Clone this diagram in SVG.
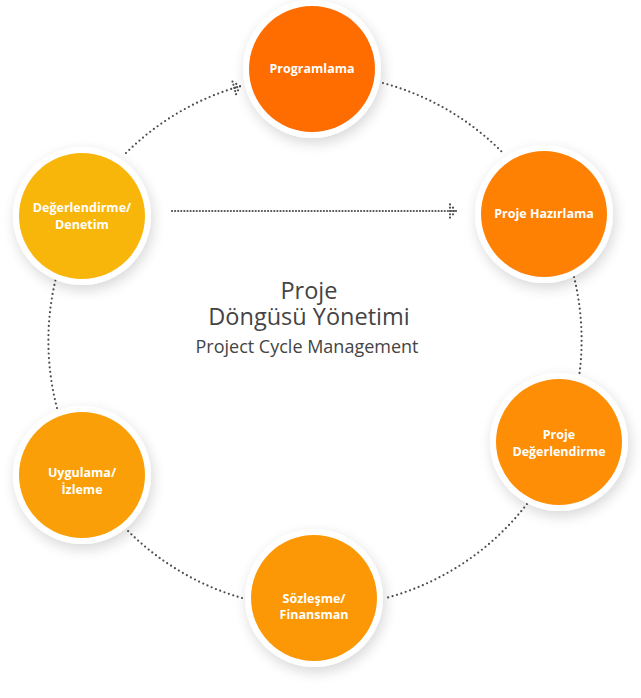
<svg xmlns="http://www.w3.org/2000/svg" width="641" height="698" viewBox="0 0 641 698">
  <style>
    .ring { fill: #ffffff; filter: url(#shadow); }
    .lbl { font-family: "Open Sans", "Liberation Sans", sans-serif; font-weight: 700; font-size: 12.5px; fill: #ffffff; text-anchor: middle; }
    .ctr { font-family: "Open Sans", "Liberation Sans", sans-serif; fill: #444444; text-anchor: middle; }
    .dot { fill: none; stroke: #4d4d4d; stroke-width: 2.2; stroke-linecap: round; stroke-dasharray: 0 4.6; }
    .dotH { fill: none; stroke: #4d4d4d; stroke-width: 2.2; stroke-linecap: round; stroke-dasharray: 0 3.1; }
  </style>
  <defs>
    <filter id="shadow" x="-30%" y="-30%" width="160%" height="160%">
      <feGaussianBlur in="SourceAlpha" stdDeviation="7"/>
      <feOffset dx="2" dy="5" result="b"/>
      <feComponentTransfer><feFuncA type="linear" slope="0.16"/></feComponentTransfer>
      <feMerge><feMergeNode/><feMergeNode in="SourceGraphic"/></feMerge>
    </filter>
    <marker id="darrow" markerUnits="userSpaceOnUse" markerWidth="20" markerHeight="20" viewBox="-10 -10 20 20" refX="0" refY="0" orient="auto" overflow="visible">
      <g fill="#4d4d4d">
        <circle cx="-7" cy="-6.6" r="1.1"/>
        <circle cx="-7" cy="-3.3" r="1.1"/>
        <circle cx="-7" cy="0" r="1.1"/>
        <circle cx="-7" cy="3.3" r="1.1"/>
        <circle cx="-7" cy="6.6" r="1.1"/>
        <circle cx="-4" cy="-3.3" r="1.1"/>
        <circle cx="-4" cy="0" r="1.1"/>
        <circle cx="-4" cy="3.3" r="1.1"/>
        <circle cx="-1" cy="0" r="1.1"/>
      </g>
    </marker>
  </defs>
  <rect width="641" height="698" fill="#ffffff"/>

  <g id="connectors">
    <path class="dot" d="M126,153 A265,265 0 0 1 241,86" marker-end="url(#darrow)"/>
    <path class="dot" d="M383,83 A265,265 0 0 1 503,153"/>
    <path class="dot" d="M574,277 A265,265 0 0 1 579,377"/>
    <path class="dot" d="M527,504 A265,265 0 0 1 386,598"/>
    <path class="dot" d="M242,598 A265,265 0 0 1 127,530"/>
    <path class="dot" d="M57,408 A265,265 0 0 1 57,274"/>
    <path class="dotH" d="M172,211 L457,211" marker-end="url(#darrow)"/>
  </g>

  <g id="node-programlama">
    <circle class="ring" cx="312" cy="69" r="69"/>
    <circle cx="312" cy="69" r="63" fill="#FF6C00"/>
    <text class="lbl" x="312" y="73">Programlama</text>
  </g>
  <g id="node-proje-hazirlama">
    <circle class="ring" cx="544" cy="214" r="69"/>
    <circle cx="544" cy="214" r="63" fill="#FF8104"/>
    <text class="lbl" x="544" y="218">Proje Hazırlama</text>
  </g>
  <g id="node-proje-degerlendirme">
    <circle class="ring" cx="559" cy="442" r="69"/>
    <circle cx="559" cy="442" r="63" fill="#FD8E05"/>
    <text class="lbl" x="559" y="439">Proje</text>
    <text class="lbl" x="559" y="456">Değerlendirme</text>
  </g>
  <g id="node-sozlesme">
    <circle class="ring" cx="314" cy="598" r="69"/>
    <circle cx="314" cy="598" r="63" fill="#FC9805"/>
    <text class="lbl" x="314" y="603">Sözleşme/</text>
    <text class="lbl" x="314" y="619">Finansman</text>
  </g>
  <g id="node-uygulama">
    <circle class="ring" cx="82" cy="475" r="69"/>
    <circle cx="82" cy="475" r="63" fill="#FA9F07"/>
    <text class="lbl" x="82" y="477">Uygulama/</text>
    <text class="lbl" x="82" y="494">İzleme</text>
  </g>
  <g id="node-degerlendirme-denetim">
    <circle class="ring" cx="82" cy="216" r="69"/>
    <circle cx="82" cy="216" r="63" fill="#F9B60A"/>
    <text class="lbl" x="82" y="212">Değerlendirme/</text>
    <text class="lbl" x="82" y="229">Denetim</text>
  </g>

  <g id="center-title">
    <text class="ctr" x="309" y="298.5" font-size="23.5">Proje</text>
    <text class="ctr" x="309" y="325" font-size="23.5">Döngüsü Yönetimi</text>
    <text class="ctr" x="307" y="352.5" font-size="18">Project Cycle Management</text>
  </g>
</svg>
